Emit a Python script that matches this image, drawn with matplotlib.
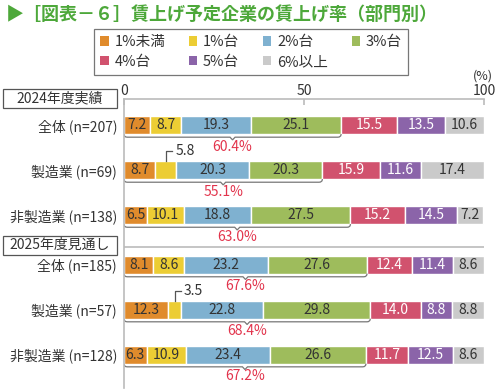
import matplotlib
matplotlib.use("Agg")
import matplotlib.pyplot as plt
import numpy as np
from matplotlib.patches import Patch, PathPatch, Rectangle
from matplotlib.path import Path

plt.rcParams["font.family"] = ["Noto Sans CJK JP", "DejaVu Sans"]

# ---- data ----
bands = ["1%未満", "1%台", "2%台", "3%台", "4%台", "5%台", "6%以上"]
rows = ["全体 (n=207)", "製造業 (n=69)", "非製造業 (n=138)",
        "全体 (n=185)", "製造業 (n=57)", "非製造業 (n=128)"]
groups = ["2024年度実績", "2025年度見通し"]
under1 = [7.2, 8.7, 6.5, 8.1, 12.3, 6.3]
pct1 = [8.7, 5.8, 10.1, 8.6, 3.5, 10.9]
pct2 = [19.3, 20.3, 18.8, 23.2, 22.8, 23.4]
pct3 = [25.1, 20.3, 27.5, 27.6, 29.8, 26.6]
pct4 = [15.5, 15.9, 15.2, 12.4, 14.0, 11.7]
pct5 = [13.5, 11.6, 14.5, 11.4, 8.8, 12.5]
over6 = [10.6, 17.4, 7.2, 8.6, 8.8, 8.6]
share_3_under = [60.4, 55.1, 63.0, 67.6, 68.4, 67.2]

colors = ["#E08B2C", "#ECCD34", "#7FB1D0", "#9EBC5C", "#D1526E", "#8B64A9", "#CACACA"]
txt_colors = ["#333333"] * 4 + ["white", "white", "#333333"]

# layout
ypos = np.array([0, 1, 2, 3.1, 4.1, 5.1])
sep_y = 2.71
bar_h = 0.4
fs = 10

fig = plt.figure(figsize=(5, 3.9), dpi=100)
ax = fig.add_axes([124 / 500, 2 / 390, 360 / 500, 289 / 390])

series = [under1, pct1, pct2, pct3, pct4, pct5, over6]
left = np.zeros(len(rows))
for k, vals in enumerate(series):
    vals = np.array(vals)
    ax.barh(ypos, vals, left=left, height=bar_h, color=colors[k],
            edgecolor="white", linewidth=1.0)
    for i, v in enumerate(vals):
        cx = left[i] + v / 2
        if v >= 6:
            ax.text(cx, ypos[i], f"{v:.1f}", ha="center", va="center",
                    fontsize=fs, color=txt_colors[k])
        else:
            ytop = ypos[i] - bar_h / 2
            yl = ytop - 0.22
            ax.plot([cx, cx, cx + 1.8], [ytop, yl, yl], color="#555555", lw=0.9)
            ax.text(cx + 2.6, yl, f"{v:.1f}", ha="left", va="center",
                    fontsize=fs, color="#333333")
    left += vals

# braces for 3%台 and below
cum4 = np.array(under1) + np.array(pct1) + np.array(pct2) + np.array(pct3)
for i in range(len(rows)):
    yc = ypos[i]
    y0 = yc + bar_h / 2
    yl = y0 + 0.07
    yn = yl + 0.06
    x1 = cum4[i]
    xm = x1 / 2
    rx = 0.9
    verts = [(0, y0), (0, yl), (rx, yl), (xm - 0.7, yl), (xm, yn), (xm + 0.7, yl),
             (x1 - rx, yl), (x1, yl), (x1, y0)]
    codes = [Path.MOVETO, Path.CURVE3, Path.CURVE3, Path.LINETO, Path.LINETO,
             Path.LINETO, Path.LINETO, Path.CURVE3, Path.CURVE3]
    ax.add_patch(PathPatch(Path(verts, codes), fill=False, edgecolor="#777777", lw=0.9))
    ax.text(xm, yc + 0.48, f"{share_3_under[i]:.1f}%", ha="center", va="center",
            fontsize=fs, color="#E2344C")

ax.axhline(sep_y, color="#BBBBBB", lw=1.2)

ax.set_xlim(0, 100)
ax.set_ylim(5.84, -0.578)
ax.xaxis.tick_top()
ax.set_xticks([0, 50, 100])
ax.tick_params(axis="x", direction="in", length=4, color="#BBBBBB", width=1.2,
               labelsize=fs, labelcolor="#333333", pad=1)
ax.set_yticks(ypos)
ax.set_yticklabels(rows, fontsize=fs, color="#333333")
ax.tick_params(axis="y", length=0, pad=5)
for s in ["right", "bottom"]:
    ax.spines[s].set_visible(False)
for s in ["top", "left"]:
    ax.spines[s].set_color("#BBBBBB")
    ax.spines[s].set_linewidth(1.2)

# group boxes
group_y = [98.5, 245]
for g, gy in zip(groups, group_y):
    fig.patches.append(Rectangle((3 / 500, 1 - (gy + 9.5) / 390), 114 / 500, 19 / 390,
                                 transform=fig.transFigure, facecolor="white",
                                 edgecolor="#555555", lw=0.9, zorder=5))
    fig.text(60 / 500, 1 - gy / 390, g, ha="center", va="center", fontsize=fs,
             color="#333333", zorder=6)

fig.text(493 / 500, 1 - 76 / 390, "(%)", ha="right", va="center", fontsize=fs - 1,
         color="#333333")

# title
fig.text(6 / 500, 1 - 14 / 390, "▶［図表－６］賃上げ予定企業の賃上げ率（部門別）",
         ha="left", va="center", fontsize=13, color="#4DA83A", fontweight="bold")

# legend (row-major order)
handles = [Patch(facecolor=c, edgecolor="none") for c in colors]
order = [0, 4, 1, 5, 2, 6, 3]
leg = fig.legend([handles[i] for i in order], [bands[i] for i in order],
                 loc="center", bbox_to_anchor=(251 / 500, 1 - 52 / 390), ncol=4,
                 fontsize=10.5, frameon=True, fancybox=False, edgecolor="#555555",
                 handlelength=0.6, handleheight=0.6, handletextpad=0.4,
                 columnspacing=1.6, labelspacing=0.4, borderpad=0.4)
leg.get_frame().set_linewidth(0.9)
for t in leg.get_texts():
    t.set_color("#333333")

fig.savefig("out.png", dpi=100)
